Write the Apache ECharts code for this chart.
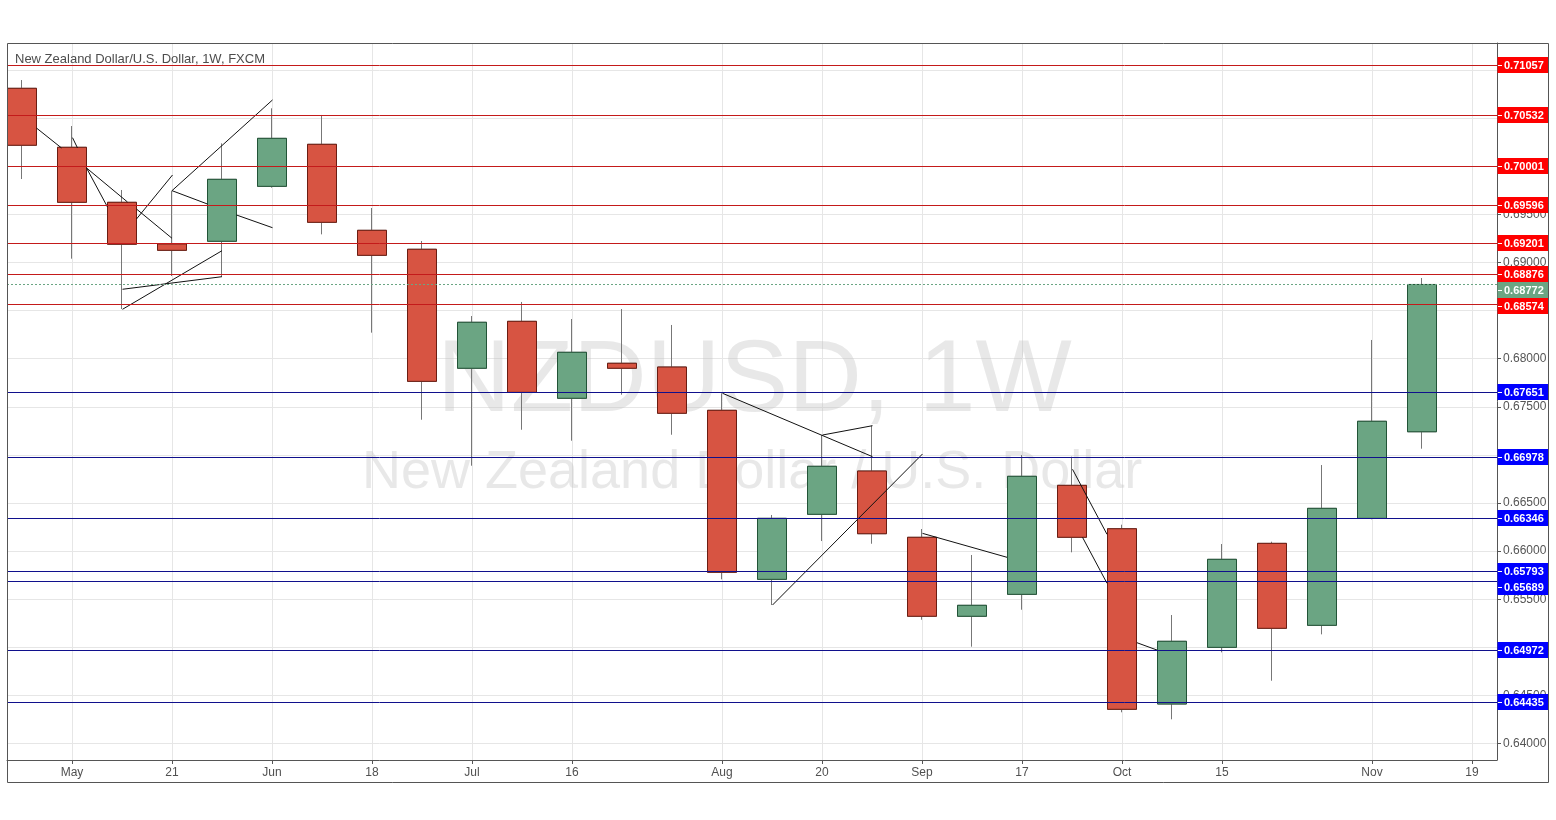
<!DOCTYPE html>
<html><head><meta charset="utf-8">
<script src="https://cdn.jsdelivr.net/npm/echarts@6/dist/echarts.min.js"></script>
<style>html,body{margin:0;padding:0;background:#fff;} #c{width:1556px;height:820px;}</style>
</head><body><div id="c"></div>
<script>
// Weekly NZD/USD candles (weeks starting Monday)
const weeks = ['2018-04-30','2018-05-07','2018-05-14','2018-05-21','2018-05-28','2018-06-04','2018-06-11','2018-06-18','2018-06-25','2018-07-02','2018-07-09','2018-07-16','2018-07-23','2018-07-30','2018-08-06','2018-08-13','2018-08-20','2018-08-27','2018-09-03','2018-09-10','2018-09-17','2018-09-24','2018-10-01','2018-10-08','2018-10-15','2018-10-22','2018-10-29','2018-11-05','2018-11-12'];
const opens  = [0.70811,0.70198,0.69626,0.69193,0.69221,0.69792,0.70229,0.69335,0.69138,0.67901,0.68389,0.67589,0.67953,0.67914,0.67464,0.65707,0.66383,0.66833,0.66144,0.65323,0.65551,0.66684,0.66233,0.64411,0.65000,0.66081,0.65229,0.66341,0.67241];
const closes = [0.70219,0.69626,0.69190,0.69127,0.69865,0.70291,0.69418,0.69075,0.67765,0.68379,0.67651,0.68067,0.67901,0.67433,0.65780,0.66341,0.66882,0.66181,0.65323,0.65437,0.66778,0.66144,0.64356,0.65063,0.65915,0.65198,0.66445,0.67350,0.68772];
const lows   = [0.69868,0.69040,0.68517,0.68860,0.68853,0.69778,0.69293,0.68271,0.67366,0.66888,0.67262,0.67148,0.67626,0.67210,0.65707,0.65440,0.66105,0.66077,0.65287,0.65007,0.65391,0.65988,0.64325,0.64252,0.64948,0.64653,0.65135,0.66331,0.67065];
const highs  = [0.70897,0.70419,0.69754,0.69747,0.70239,0.70603,0.70534,0.69567,0.69224,0.68444,0.68590,0.68413,0.68517,0.68351,0.67641,0.66376,0.67207,0.67304,0.66230,0.65960,0.66999,0.66982,0.66275,0.65336,0.66074,0.66098,0.66895,0.68195,0.68839];

// Horizontal levels
const resistance = [0.71057,0.70532,0.70001,0.69596,0.69201,0.68876,0.68574];
const support = [0.67651,0.66978,0.66346,0.65793,0.65689,0.64972,0.64435];
const lastPrice = [0.68772];

// Axis ticks
const yTicks = [0.640,0.645,0.650,0.655,0.660,0.665,0.670,0.675,0.680,0.685,0.690,0.695,0.700,0.705,0.710];
const xTickIdx = [1,3,5,7,9,11,14,16,18,20,22,24,27,29];
const xTickLabels = ['May','21','Jun','18','Jul','16','Aug','20','Sep','17','Oct','15','Nov','19'];

// Hand-drawn trend lines: [[weekIndex, price], [weekIndex, price]]
const drawnLines = [
  [[0.29,0.70398],[0.79,0.70191]],
  [[1.01,0.70298],[1.11,0.70191]],
  [[1.29,0.69983],[2.11,0.69629]],
  [[1.29,0.69983],[1.71,0.69577]],
  [[2.29,0.69556],[3.00,0.69252]],
  [[2.29,0.69453],[3.01,0.69910]],
  [[3.00,0.69747],[3.71,0.69608]],
  [[3.00,0.69747],[5.01,0.70690]],
  [[4.29,0.69494],[5.01,0.69362]],
  [[2.01,0.68722],[4.00,0.68853]],
  [[2.01,0.68514],[4.00,0.69123]],
  [[14.01,0.67641],[17.01,0.66982]],
  [[16.01,0.67207],[17.01,0.67304]],
  [[15.01,0.65440],[18.01,0.67010]],
  [[18.01,0.66185],[19.70,0.65936]],
  [[21.01,0.66851],[21.70,0.66175]],
  [[21.21,0.66144],[21.70,0.65666]],
  [[22.30,0.65048],[22.70,0.64972]]
];

const chart = echarts.init(document.getElementById('c'));
const candleData = weeks.map((w,i)=>[i, opens[i], closes[i], lows[i], highs[i]]);
const bodyData = weeks.map((w,i)=>[i, opens[i], closes[i], Math.min(opens[i],closes[i]), Math.max(opens[i],closes[i])]);

// kind: 0 resistance, 1 support, 2 last price
const levelData = [].concat(
  resistance.map(v => [v, 0]),
  support.map(v => [v, 1]),
  lastPrice.map(v => [v, 2])
);
const kindStyle = [
  { line: '#c41a1a', tag: '#ff0000', dash: null },
  { line: '#10108c', tag: '#0000ff', dash: null },
  { line: '#6ba583', tag: '#6ba583', dash: [2, 2] }
];
const TAG_H = 16;

// price tags are pushed apart so they never overlap (top to bottom)
function tagCenters(api){
  const ys = levelData.map((d, i) => ({ i, y: Math.round(api.coord([0, d[0]])[1]) + 0.5 }));
  ys.sort((a, b) => a.y - b.y);
  const out = {};
  let prev = -Infinity;
  ys.forEach(o => { const c = Math.max(o.y, prev + TAG_H); out[o.i] = c; prev = c; });
  return out;
}

function renderLevel(params, api){
  const v = api.value(0);
  const k = kindStyle[api.value(1)];
  const cs = params.coordSys;
  const y = Math.round(api.coord([0, v])[1]) + 0.5;
  const ty = tagCenters(api)[params.dataIndex];
  const x0 = cs.x, x1 = cs.x + cs.width;
  return {
    type: 'group',
    children: [
      { type: 'line', shape: { x1: x0, y1: y, x2: x1, y2: y },
        style: { stroke: k.line, lineWidth: 1, lineDash: k.dash } },
      { type: 'rect', shape: { x: x1 + 0.5, y: ty - TAG_H / 2 - 0.5, width: 51.5, height: TAG_H },
        style: { fill: k.tag } },
      { type: 'line', shape: { x1: x1 + 1, y1: ty, x2: x1 + 5, y2: ty },
        style: { stroke: '#fff', lineWidth: 1 } },
      { type: 'text', style: { text: v.toFixed(5), x: x1 + 7, y: ty, verticalAlign: 'middle', align: 'left',
        fill: '#fff', font: 'bold 11px Liberation Sans, Arial, sans-serif' } }
    ]
  };
}

const option = {
  animation: false,
  backgroundColor: '#fff',
  title: {
    text: 'New Zealand Dollar/U.S. Dollar, 1W, FXCM',
    left: 10, top: 48,
    textStyle: { fontSize: 13, fontWeight: 'normal', color: '#4d4d4d', fontFamily: 'Liberation Sans, Arial, sans-serif' }
  },
  grid: { left: 7, top: 43, width: 1490, height: 717, containLabel: false },
  xAxis: {
    type: 'value', min: -0.3, max: 29.5,
    axisLine: { show: true, onZero: false, lineStyle: { color: '#555' } },
    axisTick: { show: true, customValues: xTickIdx, length: 4, lineStyle: { color: '#555' } },
    axisLabel: {
      customValues: xTickIdx, margin: 7, interval: 0, hideOverlap: false,
      formatter: v => xTickLabels[xTickIdx.indexOf(v)] || '',
      color: '#505050', fontSize: 12, fontFamily: 'Liberation Sans Narrow, Liberation Sans, Arial, sans-serif'
    },
    splitLine: { show: true, lineStyle: { color: '#e6e6e6' } }
  },
  yAxis: {
    type: 'value', position: 'right', min: 0.63829, max: 0.71282, scale: true,
    axisLine: { show: true, onZero: false, lineStyle: { color: '#555' } },
    axisTick: { show: true, customValues: yTicks, length: 4, lineStyle: { color: '#555' } },
    axisLabel: {
      customValues: yTicks, margin: 6, interval: 0, hideOverlap: false,
      formatter: v => v.toFixed(5),
      color: '#555', fontSize: 12, fontFamily: 'Liberation Sans, Arial, sans-serif'
    },
    splitLine: { show: true, lineStyle: { color: '#e6e6e6' } }
  },
  graphic: [
    { type: 'text', z: 1, left: 437, top: 332, silent: true,
      style: { text: 'NZDUSD, 1W', font: '102px Liberation Sans, Arial, sans-serif', fill: 'rgba(190,190,190,0.35)' } },
    { type: 'text', z: 1, left: 362, top: 446, silent: true,
      style: { text: 'New Zealand Dollar / U.S. Dollar', font: '54px Liberation Sans, Arial, sans-serif', fill: 'rgba(190,190,190,0.35)' } },
    { type: 'rect', z: 100, silent: true, shape: { x: 7.5, y: 43.5, width: 1541, height: 739 },
      style: { fill: 'none', stroke: '#555', lineWidth: 1 } }
  ],
  series: [
    {
      type: 'line', data: [], z: 2, silent: true,
      markLine: {
        silent: true, symbol: ['none','none'], animation: false, precision: 5,
        lineStyle: { color: '#111', width: 1, type: 'solid' },
        label: { show: false },
        data: drawnLines.map(s => [{ coord: s[0] }, { coord: s[1] }])
      }
    },
    {
      type: 'candlestick', z: 3, barWidth: 30, silent: true,
      encode: { x: 0, y: [1,2,3,4] },
      data: candleData,
      itemStyle: { color: '#6ba583', color0: '#d75442', borderColor: '#777', borderColor0: '#777', borderWidth: 1 }
    },
    {
      type: 'candlestick', z: 4, barWidth: 30, silent: true,
      encode: { x: 0, y: [1,2,3,4] },
      data: bodyData,
      itemStyle: { color: '#6ba583', color0: '#d75442', borderColor: '#225437', borderColor0: '#6b1d12', borderWidth: 1 }
    },
    {
      type: 'custom', z: 5, silent: true, clip: false,
      encode: { y: 0 },
      data: levelData,
      renderItem: renderLevel
    }
  ]
};
chart.setOption(option);
</script>
</body></html>
